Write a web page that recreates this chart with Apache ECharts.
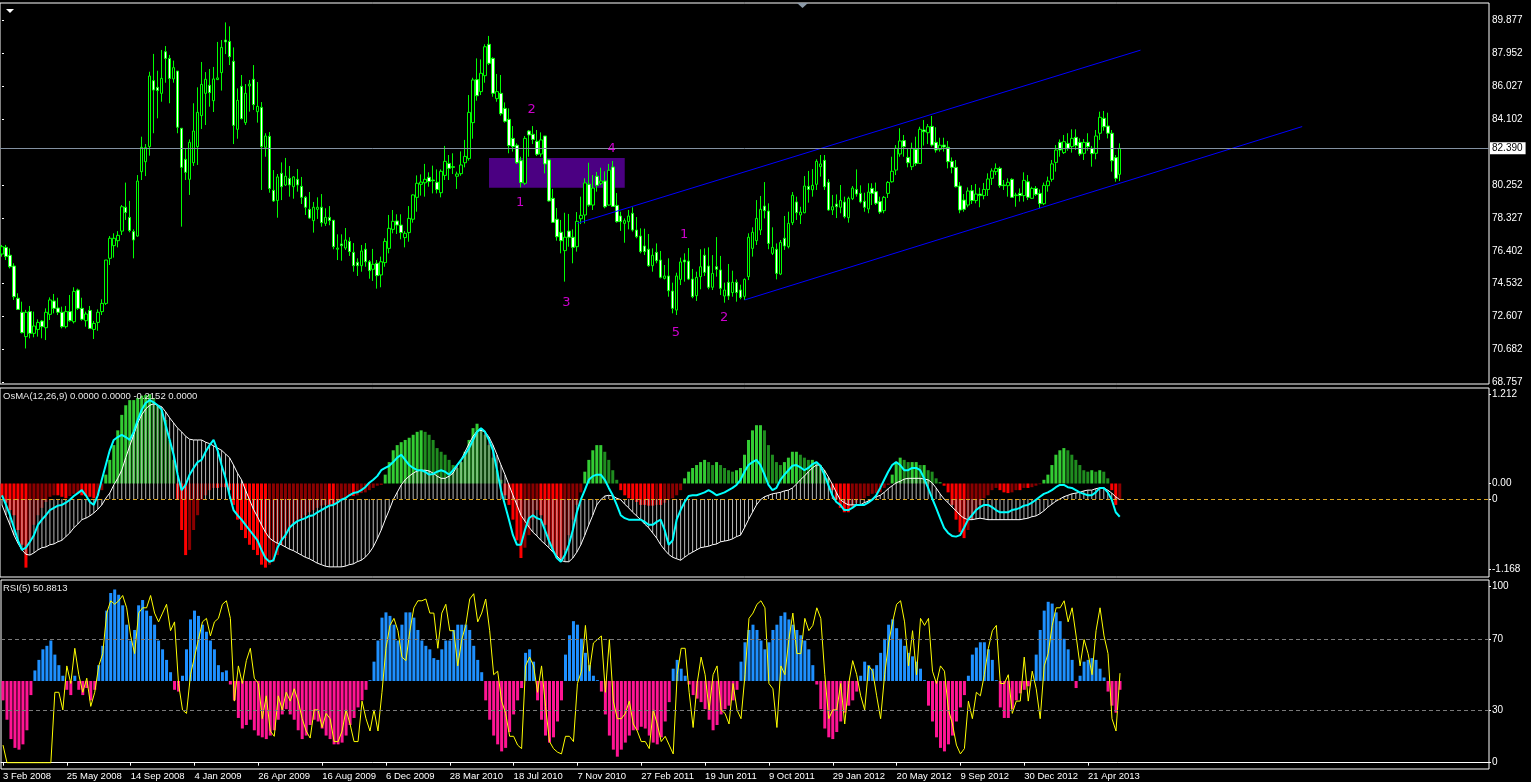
<!DOCTYPE html>
<html><head><meta charset="utf-8">
<script src="https://cdn.jsdelivr.net/npm/echarts@6.0.0/dist/echarts.min.js"></script>
<style>html,body{margin:0;padding:0;background:#000;overflow:hidden}#c{width:1531px;height:782px}</style>
</head><body><div id="c"></div>
<script>
const opens=[76.22,76.61,76.15,75.52,73.64,72.82,71.40,72.86,71.59,71.82,
72.31,71.92,72.70,73.48,73.07,72.82,71.98,72.86,72.27,74.12,
73.05,72.33,72.93,71.82,72.23,72.86,73.34,75.97,76.71,77.00,
77.56,78.95,78.36,77.53,77.27,81.03,81.61,82.49,86.34,85.95,
85.60,88.03,87.64,86.44,86.90,83.56,81.75,80.58,81.55,82.49,
84.30,85.60,86.07,85.17,86.40,86.81,88.71,88.63,87.47,83.50,
86.01,83.89,86.03,86.42,84.53,84.78,82.45,83.09,79.94,79.35,
80.93,80.25,80.64,80.15,80.58,80.17,79.53,78.83,78.17,78.83,
78.95,78.01,78.36,78.19,76.50,76.81,76.57,76.96,76.32,75.74,
75.54,76.50,75.77,75.33,75.68,75.00,75.72,76.55,77.66,78.15,
77.91,77.18,77.47,78.25,79.53,80.29,80.38,80.70,80.54,80.41,
79.80,80.81,81.51,81.32,80.76,80.91,81.55,81.79,83.89,86.40,
85.70,86.63,88.46,87.64,85.29,85.60,84.72,84.08,82.97,82.57,
81.67,80.35,83.40,83.21,82.80,82.06,83.11,81.71,79.47,78.25,
77.49,76.42,77.56,77.20,76.65,78.28,78.50,80.29,79.08,80.76,
80.35,80.48,79.08,81.30,79.06,78.44,78.01,78.11,78.60,77.62,
77.27,76.69,76.50,75.54,76.32,75.87,74.80,74.94,74.06,72.95,
74.74,75.87,75.81,74.76,73.79,74.90,76.15,75.52,74.28,75.48,
75.29,73.77,74.57,73.97,74.57,74.12,73.75,74.90,76.55,77.00,
77.62,79.02,78.73,76.26,76.50,75.05,77.14,76.65,78.05,79.26,
78.50,78.63,80.17,79.97,80.29,81.32,81.69,80.41,78.79,79.14,
78.95,79.26,78.34,79.45,79.99,79.76,79.30,78.85,80.05,79.86,
79.28,78.75,79.76,80.44,81.12,82.06,82.84,81.86,81.32,82.33,
81.51,83.46,83.30,83.67,82.74,82.33,82.58,82.45,81.63,81.28,
80.19,79.37,79.08,79.92,79.34,79.72,79.63,79.99,80.64,81.03,
81.22,80.25,80.21,80.58,79.63,79.76,79.63,80.44,79.47,80.05,
79.76,79.16,80.21,80.58,81.57,82.74,82.14,82.68,82.49,83.03,
82.74,82.10,82.74,82.39,82.10,83.27,84.14,83.69,83.27,81.85,
80.87];
const highs=[76.75,76.75,76.55,75.68,73.93,73.44,72.96,73.19,72.86,72.41,
72.37,73.05,73.69,73.89,73.67,73.15,73.19,73.83,74.28,74.20,
73.67,72.86,73.19,72.31,72.99,73.58,75.87,77.27,77.43,77.56,
79.08,80.39,79.32,77.66,80.83,83.07,82.64,86.86,87.90,86.92,
88.13,88.36,87.84,87.51,86.90,83.56,82.39,82.91,85.02,85.95,
87.43,86.84,87.02,87.14,88.60,88.71,89.74,89.51,88.28,85.89,
86.67,86.14,86.38,87.25,86.26,85.09,83.27,83.34,81.12,80.89,
81.57,81.83,81.36,80.77,81.18,80.72,79.61,79.84,79.26,79.53,
79.72,78.89,79.02,78.21,77.37,77.37,77.74,77.20,76.86,75.97,
76.75,76.86,75.87,76.52,75.87,76.07,77.14,78.50,78.79,78.54,
78.54,77.56,79.02,79.70,80.81,80.87,81.48,80.99,81.38,81.16,
81.16,82.53,82.00,82.10,81.03,82.21,82.88,85.50,86.51,87.64,
87.58,88.46,88.95,87.70,86.73,86.67,85.07,84.72,83.69,82.68,
81.90,83.11,83.46,83.69,83.46,83.32,83.11,81.75,80.02,78.91,
78.21,78.63,78.56,77.66,78.67,79.57,80.64,81.55,80.83,81.01,
81.26,81.05,81.48,81.65,79.78,78.69,78.30,78.79,78.95,78.38,
77.72,77.70,77.39,76.55,76.84,76.40,75.58,75.97,74.55,75.13,
76.01,76.26,76.57,75.35,75.19,76.50,76.55,76.61,76.16,77.21,
76.11,74.55,75.64,75.25,74.74,74.43,74.80,77.43,77.78,79.37,
79.61,80.42,79.18,77.78,76.84,77.04,78.44,78.69,79.84,79.57,
78.98,80.77,81.07,81.18,81.75,82.00,82.00,80.60,79.67,79.70,
80.25,79.57,79.57,80.19,81.16,80.23,79.80,80.35,80.35,80.39,
79.57,79.61,80.48,81.90,82.58,83.56,83.17,82.39,82.72,83.07,
83.65,84.04,83.81,84.28,83.62,83.01,83.01,82.82,81.86,81.71,
80.42,79.72,80.11,80.25,80.31,80.09,80.37,80.93,81.22,81.51,
81.32,80.54,80.64,80.64,79.80,80.05,80.99,80.83,80.15,80.19,
79.99,80.39,80.74,81.71,82.58,82.91,83.17,83.27,83.50,83.50,
82.97,82.93,83.27,82.53,83.46,84.53,84.57,84.47,83.46,82.00,
82.68];
const lows=[76.07,75.87,75.38,73.54,72.97,71.59,70.71,71.30,71.36,71.40,
71.30,71.20,72.37,72.76,72.66,71.88,71.88,72.27,72.17,72.96,
72.33,71.98,71.84,71.26,71.74,72.66,73.25,75.58,76.01,76.61,
77.33,78.21,77.49,75.97,77.23,80.54,80.77,81.96,83.27,84.14,
85.11,86.22,85.02,86.22,83.27,77.82,80.54,79.67,81.36,81.42,
83.52,83.75,84.82,84.51,86.38,85.76,87.89,87.25,82.64,82.95,
84.08,83.75,84.53,84.63,83.89,79.96,81.90,79.80,79.26,78.34,
79.37,80.19,79.57,79.45,79.86,79.14,78.50,78.27,77.47,78.27,
77.82,77.86,77.90,76.50,75.87,75.83,76.46,76.11,75.19,74.94,
75.19,75.48,74.78,74.65,74.20,74.28,75.48,76.26,77.43,77.39,
77.08,76.61,76.94,78.05,78.69,79.63,79.57,80.15,79.76,79.76,
79.53,80.54,80.54,80.89,80.02,80.79,81.28,81.67,82.95,85.17,
85.50,86.22,87.25,85.40,85.11,84.30,83.89,82.10,82.20,81.48,
80.11,80.25,81.90,82.64,81.94,81.90,80.93,79.28,78.05,77.00,
76.26,74.61,76.65,75.68,76.36,77.97,78.01,78.98,78.79,79.86,
80.25,78.89,79.04,78.98,78.05,77.57,76.88,77.66,77.53,77.14,
76.26,76.16,75.48,75.19,75.68,74.80,74.74,73.73,72.76,72.66,
74.41,74.61,74.70,73.64,73.48,74.16,74.94,74.16,74.12,74.90,
73.83,73.38,73.54,73.73,73.44,73.58,73.54,74.70,76.07,76.75,
77.33,78.30,76.50,76.16,74.74,74.99,76.46,76.55,77.91,78.21,
77.97,78.60,79.22,79.57,79.96,80.74,79.96,78.75,78.50,78.32,
78.60,78.30,78.05,79.37,79.57,79.18,78.69,78.60,79.08,79.08,
78.56,78.60,79.49,80.39,80.83,81.90,81.90,81.28,81.12,81.36,
81.48,82.55,82.64,82.49,82.14,82.20,82.20,81.22,80.93,80.11,
78.60,78.69,78.95,79.14,79.18,78.95,79.41,79.61,80.25,80.83,
80.09,79.96,79.57,79.51,78.98,79.28,79.28,79.37,79.43,79.61,
78.89,79.08,79.86,80.44,81.03,81.90,82.06,82.25,82.14,82.29,
81.94,81.71,82.25,81.32,81.75,82.88,83.42,82.97,81.03,80.44,
80.48];
const closes=[76.65,76.07,75.48,73.73,72.99,71.63,72.82,71.59,72.02,72.23,
71.98,72.82,73.54,73.05,72.82,71.98,72.86,72.33,74.04,73.05,
72.41,72.72,71.88,72.17,72.82,73.34,75.87,77.14,77.14,77.31,
78.98,78.65,77.59,77.04,80.48,82.45,82.43,86.61,85.79,85.76,
86.47,87.64,86.47,87.10,83.62,81.28,80.99,82.74,83.40,84.49,
86.12,86.42,85.64,86.44,86.50,88.28,88.60,87.74,83.73,85.19,
84.12,85.60,86.14,84.94,84.84,82.49,83.11,80.04,79.32,80.72,
80.15,80.76,80.25,80.72,80.25,79.53,78.95,78.32,78.95,78.95,
78.05,78.36,78.17,76.65,76.57,76.71,77.04,76.36,75.54,75.54,
76.40,75.77,75.25,75.62,74.96,75.77,76.96,77.72,78.13,77.91,
77.47,77.43,78.30,79.67,80.35,80.42,80.58,80.45,80.50,79.99,
81.05,81.63,81.22,81.28,80.89,81.42,81.92,84.49,86.38,85.46,
86.77,88.32,87.35,85.60,85.70,84.41,83.97,82.55,82.49,81.55,
80.39,82.97,83.17,82.91,82.04,82.88,81.48,79.32,78.07,77.23,
77.00,77.20,77.20,76.61,78.13,78.48,80.37,79.08,80.07,80.23,
80.48,78.98,81.11,79.00,78.11,78.11,78.17,78.44,77.62,77.23,
76.36,76.36,75.54,76.15,75.83,74.86,74.94,74.08,73.05,74.94,
75.76,75.76,74.76,73.73,74.86,75.48,75.15,74.28,75.09,75.33,
74.22,74.12,73.77,74.57,73.97,73.69,74.74,77.20,77.49,78.30,
78.83,78.75,76.84,76.61,75.09,76.90,76.69,78.01,79.65,78.63,
78.67,80.19,79.99,80.23,81.63,81.48,80.15,78.79,78.98,78.98,
79.35,78.40,79.47,80.07,79.72,79.26,78.95,79.84,79.76,79.18,
78.67,79.53,80.40,81.05,82.39,82.82,82.49,81.55,82.39,81.51,
83.50,83.36,83.65,82.58,82.29,82.57,82.47,81.61,81.28,80.15,
78.79,78.83,79.90,79.34,79.72,79.63,79.99,80.60,81.07,81.22,
80.21,80.21,80.41,79.53,79.67,79.63,80.52,79.53,80.05,79.70,
79.16,80.23,80.48,81.48,82.29,82.29,82.78,82.39,82.97,82.55,
82.06,82.74,82.49,82.08,83.11,84.20,83.65,83.27,81.67,80.64,
82.39];

// OsMA coloured histogram (left scale, 1.212 / -1.168)
const osmaHist=[-0.18,-0.26,-0.36,-0.43,-0.63,-0.83,-1.14,-0.77,-0.56,-0.43,
-0.33,-0.25,-0.18,-0.16,-0.16,-0.18,-0.20,-0.17,-0.14,-0.13,
-0.16,-0.17,-0.18,-0.20,-0.17,-0.09,0.12,0.32,0.52,0.72,
0.93,1.06,1.13,1.13,1.16,1.19,1.20,1.21,1.16,1.06,
1.00,0.86,0.59,0.32,-0.22,-0.63,-0.97,-0.90,-0.63,-0.43,
-0.22,-0.16,-0.09,-0.06,-0.06,-0.05,-0.05,-0.09,-0.29,-0.49,
-0.63,-0.74,-0.83,-0.90,-0.97,-1.10,-1.14,-1.10,-1.06,-0.97,
-0.83,-0.74,-0.63,-0.56,-0.49,-0.47,-0.43,-0.39,-0.36,-0.33,
-0.30,-0.29,-0.29,-0.29,-0.26,-0.22,-0.20,-0.17,-0.17,-0.16,
-0.13,-0.12,-0.09,-0.06,-0.03,-0.02,0.12,0.29,0.45,0.52,
0.56,0.59,0.62,0.66,0.70,0.72,0.70,0.66,0.59,0.48,
0.43,0.39,0.32,0.25,0.21,0.29,0.43,0.59,0.75,0.81,
0.75,0.66,0.52,0.35,0.18,0.05,-0.16,-0.29,-0.49,-0.77,
-1.01,-0.87,-0.70,-0.49,-0.36,-0.43,-0.56,-0.77,-0.90,-1.01,
-1.04,-0.90,-0.70,-0.49,-0.29,-0.12,0.16,0.32,0.45,0.52,
0.52,0.43,0.32,0.18,0.05,-0.09,-0.16,-0.20,-0.22,-0.25,
-0.29,-0.29,-0.30,-0.30,-0.29,-0.29,-0.26,-0.22,-0.20,-0.16,
-0.09,0.07,0.16,0.21,0.25,0.29,0.32,0.29,0.25,0.29,
0.25,0.21,0.18,0.16,0.18,0.21,0.39,0.59,0.72,0.79,
0.79,0.72,0.52,0.39,0.29,0.25,0.29,0.35,0.43,0.43,
0.39,0.35,0.32,0.32,0.29,0.25,0.18,0.07,-0.09,-0.22,
-0.33,-0.39,-0.39,-0.33,-0.26,-0.22,-0.20,-0.17,-0.14,-0.13,
-0.12,-0.06,-0.02,0.12,0.29,0.35,0.32,0.29,0.29,0.29,
0.25,0.25,0.18,0.16,0.07,0.02,-0.03,-0.12,-0.29,-0.49,
-0.66,-0.74,-0.63,-0.49,-0.36,-0.29,-0.20,-0.16,-0.09,-0.06,
-0.09,-0.12,-0.13,-0.12,-0.09,-0.09,-0.06,-0.06,-0.05,-0.03,
-0.01,0.05,0.12,0.25,0.39,0.45,0.48,0.45,0.39,0.32,
0.25,0.18,0.16,0.18,0.16,0.18,0.16,0.07,-0.09,-0.29,
-0.22];
// MACD main (white line + silver bars) on the second scale (zero = dashed "0" level)
const macdMain=[-0.08,-0.22,-0.35,-0.49,-0.60,-0.69,-0.75,-0.76,-0.73,-0.69,
-0.66,-0.65,-0.62,-0.61,-0.58,-0.56,-0.51,-0.46,-0.39,-0.34,
-0.28,-0.26,-0.23,-0.19,-0.14,-0.08,0.01,0.08,0.19,0.28,
0.39,0.56,0.72,0.87,1.03,1.14,1.22,1.27,1.29,1.27,
1.25,1.18,1.10,1.03,0.96,0.91,0.85,0.81,0.80,0.80,
0.80,0.77,0.75,0.72,0.69,0.66,0.61,0.56,0.46,0.35,
0.26,0.12,-0.01,-0.14,-0.24,-0.35,-0.45,-0.53,-0.57,-0.60,
-0.62,-0.65,-0.68,-0.70,-0.73,-0.76,-0.79,-0.81,-0.84,-0.87,
-0.89,-0.91,-0.92,-0.92,-0.92,-0.92,-0.91,-0.89,-0.88,-0.85,
-0.83,-0.79,-0.73,-0.65,-0.54,-0.42,-0.28,-0.15,-0.01,0.09,
0.19,0.26,0.31,0.35,0.38,0.39,0.39,0.38,0.35,0.31,
0.28,0.28,0.31,0.35,0.45,0.53,0.64,0.75,0.85,0.92,
0.93,0.91,0.84,0.73,0.60,0.46,0.33,0.19,0.05,-0.08,
-0.22,-0.30,-0.38,-0.45,-0.50,-0.56,-0.61,-0.66,-0.72,-0.77,
-0.83,-0.85,-0.85,-0.80,-0.72,-0.62,-0.49,-0.35,-0.22,-0.08,
-0.01,0.04,0.05,0.04,0.01,-0.01,-0.07,-0.12,-0.18,-0.23,
-0.28,-0.34,-0.39,-0.46,-0.53,-0.62,-0.69,-0.75,-0.79,-0.81,
-0.83,-0.79,-0.75,-0.72,-0.69,-0.66,-0.65,-0.64,-0.62,-0.61,
-0.58,-0.57,-0.56,-0.54,-0.51,-0.49,-0.39,-0.28,-0.18,-0.08,
-0.01,0.03,0.05,0.07,0.08,0.09,0.11,0.12,0.15,0.20,
0.26,0.31,0.37,0.42,0.46,0.46,0.39,0.30,0.20,0.09,
-0.01,-0.05,-0.08,-0.08,-0.08,-0.08,-0.05,-0.03,0.00,0.03,
0.05,0.09,0.14,0.18,0.22,0.24,0.27,0.28,0.28,0.28,
0.28,0.27,0.26,0.22,0.15,0.07,0.00,-0.05,-0.11,-0.16,
-0.22,-0.26,-0.28,-0.28,-0.27,-0.26,-0.27,-0.28,-0.28,-0.28,
-0.28,-0.28,-0.28,-0.28,-0.28,-0.28,-0.27,-0.26,-0.24,-0.23,
-0.20,-0.16,-0.11,-0.07,-0.03,0.00,0.03,0.05,0.07,0.08,
0.09,0.11,0.12,0.12,0.14,0.15,0.15,0.12,0.08,0.03,
-0.01];
// fast (cyan) line on the same second scale
const macdFast=[0.05,-0.08,-0.22,-0.39,-0.56,-0.69,-0.66,-0.58,-0.49,-0.35,
-0.28,-0.22,-0.15,-0.12,-0.09,-0.08,-0.05,-0.01,0.04,0.08,
0.12,0.05,-0.04,-0.08,0.05,0.26,0.46,0.66,0.80,0.84,
0.87,0.84,0.80,0.91,1.07,1.21,1.30,1.34,1.31,1.27,
1.21,1.00,0.80,0.60,0.33,0.12,0.19,0.33,0.42,0.50,
0.53,0.64,0.73,0.80,0.66,0.46,0.28,0.05,-0.15,-0.22,
-0.28,-0.35,-0.42,-0.49,-0.56,-0.69,-0.80,-0.85,-0.83,-0.66,
-0.56,-0.49,-0.39,-0.34,-0.30,-0.28,-0.26,-0.23,-0.22,-0.18,
-0.15,-0.12,-0.09,-0.08,-0.05,-0.01,0.01,0.05,0.08,0.09,
0.12,0.16,0.22,0.26,0.31,0.39,0.42,0.45,0.50,0.56,
0.60,0.53,0.46,0.42,0.39,0.39,0.37,0.33,0.34,0.37,
0.39,0.37,0.33,0.39,0.46,0.53,0.60,0.69,0.80,0.91,
0.96,0.91,0.80,0.66,0.39,0.12,-0.08,-0.28,-0.49,-0.62,
-0.62,-0.42,-0.26,-0.22,-0.26,-0.28,-0.42,-0.56,-0.69,-0.80,
-0.85,-0.76,-0.62,-0.42,-0.18,-0.01,0.12,0.26,0.31,0.33,
0.33,0.26,0.15,0.05,-0.08,-0.22,-0.26,-0.28,-0.28,-0.28,
-0.28,-0.31,-0.35,-0.35,-0.31,-0.28,-0.42,-0.62,-0.56,-0.28,
-0.15,-0.04,0.04,0.05,0.05,0.07,0.09,0.12,0.09,0.05,
0.07,0.09,0.12,0.15,0.19,0.26,0.37,0.46,0.50,0.53,
0.46,0.33,0.19,0.12,0.15,0.26,0.33,0.39,0.45,0.46,
0.43,0.39,0.42,0.47,0.50,0.45,0.33,0.19,0.05,-0.04,
-0.08,-0.15,-0.15,-0.12,-0.08,-0.08,-0.08,-0.05,-0.01,0.05,
0.15,0.26,0.37,0.46,0.50,0.46,0.39,0.39,0.42,0.42,
0.39,0.28,0.15,0.01,-0.12,-0.26,-0.39,-0.46,-0.50,-0.51,
-0.49,-0.39,-0.28,-0.22,-0.15,-0.11,-0.08,-0.08,-0.11,-0.15,
-0.18,-0.18,-0.18,-0.15,-0.14,-0.12,-0.09,-0.08,-0.05,-0.01,
0.03,0.07,0.09,0.12,0.16,0.19,0.19,0.16,0.15,0.12,
0.09,0.07,0.05,0.05,0.09,0.15,0.15,0.09,-0.01,-0.18,
-0.24];
// RSI histogram (blue above / pink below its base line)
const rsiHist=[-11,-22,-33,-38,-39,-36,-28,-8,6,12,
18,20,23,15,9,3,-5,-8,3,-5,
-8,-4,-11,-5,9,20,40,50,52,49,
43,32,23,29,43,46,40,37,32,23,
18,12,5,-5,-6,3,18,35,40,37,
32,28,23,18,9,5,6,-2,-11,-21,
-27,-25,-22,-28,-31,-32,-33,-31,-28,-22,
-19,-16,-19,-22,-28,-33,-31,-25,-22,-23,
-27,-31,-33,-36,-36,-35,-31,-25,-21,-15,
-11,-5,0.5,11,23,36,39,37,32,23,
32,39,39,36,29,23,20,18,13,12,
18,23,23,29,32,32,32,29,20,12,
5,-11,-22,-31,-36,-40,-38,-29,-19,-11,
-4,16,18,11,-11,-22,-31,-35,-32,-23,
-11,15,26,34,32,24,16,9,3,0.5,
-6,-19,-31,-39,-43,-39,-35,-31,-28,-28,
-26,-27,-31,-35,-36,-32,-23,-12,7,12,
7,3,-2,-8,-10,-12,-16,-22,-28,-25,
-19,-16,-14,-11,-5,11,22,29,32,29,
23,18,22,29,32,37,39,35,32,29,
26,23,18,9,-2,-16,-27,-32,-33,-29,
-23,-18,-14,-11,-6,3,11,9,7,9,
16,24,32,35,30,24,20,16,14,11,
7,0.5,-14,-23,-32,-38,-40,-36,-31,-23,
-15,-8,3,15,19,22,22,18,12,0.5,
-15,-21,-21,-16,-11,-7,-5,-3,0.5,15,
29,40,45,44,39,34,24,18,12,-4,
3,11,12,13,12,7,2,-6,-14,-18,
-5];
// RSI(5) line
const rsi5=[10,0,0,0,0,0,0,0,0,0,
0,0,0,40,40,30,55,45,65,50,
40,48,32,40,55,62,85,92,90,92,
95,88,72,62,85,88,88,95,85,80,
85,90,75,80,45,30,28,50,60,70,
80,82,72,80,82,90,92,82,35,55,
45,58,65,48,45,25,38,18,15,38,
30,40,35,42,35,25,18,14,30,30,
20,28,25,12,12,18,30,22,12,12,
35,25,18,30,18,40,65,78,82,75,
60,58,75,88,92,92,93,85,85,65,
85,90,75,75,55,70,78,93,96,80,
85,93,75,50,52,35,28,15,15,10,
8,55,60,55,40,55,32,12,8,6,
5,15,15,12,45,52,78,52,68,70,
72,40,70,35,25,25,28,35,22,18,
12,12,8,30,22,12,15,10,5,50,
65,65,40,20,45,60,50,30,50,55,
30,28,22,45,30,25,50,82,85,90,
92,88,45,42,20,55,50,70,85,62,
62,82,75,78,88,82,50,25,30,30,
45,22,45,58,50,38,30,55,52,38,
25,50,68,80,90,92,80,55,75,50,
82,78,82,52,45,55,52,30,22,10,
5,8,35,25,40,38,50,65,75,78,
45,45,50,28,35,35,60,35,52,42,
25,55,62,78,88,88,92,80,88,72,
55,70,62,50,75,88,72,62,25,18,
50.88];

const tickLabels=['3 Feb 2008','25 May 2008','14 Sep 2008','4 Jan 2009','26 Apr 2009','16 Aug 2009','6 Dec 2009','28 Mar 2010','18 Jul 2010','7 Nov 2010','27 Feb 2011','19 Jun 2011','9 Oct 2011','29 Jan 2012','20 May 2012','9 Sep 2012','30 Dec 2012','21 Apr 2013'];
const priceTicks=[89.877,87.952,86.027,84.102,80.252,78.327,76.402,74.532,72.607,70.682,68.757];
const osmaTicks=[1.212,0,-1.168];
const macdTicks=[0];
const rsiTicks=[100,70,30,0];
const rsiLevels=[70,30];
const currentPrice=82.39;
const waveLabels=[[132.7,84.63,'2'],[129.8,79.24,'1'],[152.7,82.39,'4'],[141.4,73.36,'3'],[170.9,77.33,'1'],[168.8,71.65,'5'],[180.9,72.53,'2']];
const channelUpper=[[144.1,78.01],[285.2,88.12]];
const channelLower=[[186.0,73.54],[325.7,83.66]];
const zoneBox=[[122,81.83],[156,80.09]];

const SLOTS=373, BW=4, LEFT=-3;
const cats=[]; for(let i=0;i<SLOTS;i++) cats.push(i);
const candles=opens.map((o,i)=>[o,closes[i],lows[i],highs[i]]);
const FONT='Liberation Sans';
const W=SLOTS*BW;

const osmaData=osmaHist.map((v,i)=>{
  const p=i>0?osmaHist[i-1]:0;
  let c;
  if(v>=0) c=(v>=p)?'#33cc33':'#1f8c1f'; else c=(v<=p)?'#ff0000':'#8b0000';
  return {value:v,itemStyle:{color:c}};
});
const rsiHistData=rsiHist.map(v=>({value:v,itemStyle:{color:v>=0?'#1e90ff':'#ff1493'}}));

const chart=echarts.init(document.getElementById('c'),null,{renderer:'canvas'});
const gridBase={left:LEFT,width:W,show:true,borderColor:'#ffffff',borderWidth:1,backgroundColor:'#000'};
const catAxis=(g,extra)=>Object.assign({type:'category',gridIndex:g,data:cats,boundaryGap:true,axisLine:{show:false},axisTick:{show:false},axisLabel:{show:false},splitLine:{show:false}},extra||{});
const showTick=(i)=>i%16===0 && i/16<tickLabels.length;
const hiddenY=(g,min,max)=>({type:'value',gridIndex:g,min:min,max:max,show:false,splitLine:{show:false}});

const option={
  backgroundColor:'#000',
  animation:false,
  title:[
    {text:'OsMA(12,26,9) 0.0000 0.0000 -0.2152 0.0000',left:3,top:391,padding:0,z:20,textStyle:{color:'#e8e8e8',fontSize:9.5,fontWeight:'normal',fontFamily:FONT}},
    {text:'RSI(5) 50.8813',left:3,top:583,padding:0,z:20,textStyle:{color:'#e8e8e8',fontSize:9.5,fontWeight:'normal',fontFamily:FONT}}
  ],
  grid:[
    Object.assign({top:3,height:381},gridBase),
    Object.assign({top:388,height:189},gridBase),
    Object.assign({top:580,height:189},gridBase)
  ],
  xAxis:[
    catAxis(0),
    catAxis(1),
    catAxis(2,{axisLine:{show:true,lineStyle:{color:'#fff'}},
      axisTick:{show:true,interval:(i)=>showTick(i),alignWithLabel:true,length:3,lineStyle:{color:'#fff'}},
      axisLabel:{show:true,interval:(i)=>showTick(i),formatter:(v,i)=>tickLabels[i/16]||'',align:'left',color:'#fff',fontSize:9.5,fontFamily:FONT,margin:2}}),
    {type:'value',gridIndex:0,min:-0.5,max:SLOTS-0.5,show:false},
    catAxis(1)
  ],
  yAxis:[
    {type:'value',gridIndex:0,position:'right',min:68.635,max:90.872,splitLine:{show:false},axisLine:{show:false},
      axisTick:{show:true,customValues:priceTicks,length:2,lineStyle:{color:'#fff'}},
      axisLabel:{customValues:priceTicks,formatter:(v)=>v.toFixed(3),color:'#fff',fontSize:10,fontFamily:FONT,margin:3}},
    {type:'value',gridIndex:1,position:'right',min:-1.267,max:1.294,splitLine:{show:false},axisLine:{show:false},
      axisTick:{show:true,customValues:osmaTicks,length:2,lineStyle:{color:'#fff'}},
      axisLabel:{customValues:osmaTicks,formatter:(v)=>v===0?'0.00':v.toFixed(3),color:'#fff',fontSize:10,fontFamily:FONT,margin:3}},
    {type:'value',gridIndex:1,position:'right',min:-1.057,max:1.504,splitLine:{show:false},axisLine:{show:false},
      axisTick:{show:true,customValues:macdTicks,length:2,lineStyle:{color:'#fff'}},
      axisLabel:{customValues:macdTicks,formatter:()=>'0',color:'#fff',fontSize:10,fontFamily:FONT,margin:3}},
    {type:'value',gridIndex:2,position:'right',min:-3.58,max:103.8,splitLine:{show:false},axisLine:{show:false},
      axisTick:{show:true,customValues:rsiTicks,length:2,lineStyle:{color:'#fff'}},
      axisLabel:{customValues:rsiTicks,color:'#fff',fontSize:10,fontFamily:FONT,margin:3}},
    hiddenY(2,-50,57.39)
  ],
  series:[
    {type:'line',xAxisIndex:3,yAxisIndex:0,data:[],z:1,silent:true,
      markArea:{silent:true,itemStyle:{color:'#4b0082',opacity:1},data:[[{coord:zoneBox[0]},{coord:zoneBox[1]}]]}},
    {type:'candlestick',xAxisIndex:0,yAxisIndex:0,data:candles,barWidth:3,z:3,
      itemStyle:{color:'#000000',color0:'#ffffff',borderColor:'#00ff00',borderColor0:'#00ff00',borderWidth:1},
      markLine:{silent:true,symbol:'none',lineStyle:{color:'#8391a2',width:1,type:'solid'},
        label:{show:true,position:'end',distance:1,formatter:()=>currentPrice.toFixed(3),backgroundColor:'#fff',color:'#000',fontSize:10,fontFamily:FONT,padding:[1,3,1,2]},
        data:[{yAxis:currentPrice}]}},
    {type:'line',xAxisIndex:3,yAxisIndex:0,data:channelUpper,symbol:'none',lineStyle:{color:'#0000ff',width:1},z:4,silent:true},
    {type:'line',xAxisIndex:3,yAxisIndex:0,data:channelLower,symbol:'none',lineStyle:{color:'#0000ff',width:1},z:4,silent:true},
    {type:'scatter',xAxisIndex:3,yAxisIndex:0,data:waveLabels,symbol:'circle',symbolSize:1,itemStyle:{color:'rgba(0,0,0,0)'},z:6,silent:true,
      label:{show:true,position:'inside',formatter:(p)=>p.data[2],color:'#ff00ff',fontSize:13,fontFamily:'DejaVu Sans'}},
    // OsMA panel
    {type:'bar',xAxisIndex:1,yAxisIndex:1,data:osmaData,barWidth:3,z:2,silent:true},
    {type:'bar',xAxisIndex:4,yAxisIndex:2,data:macdMain,barWidth:1,z:3,silent:true,itemStyle:{color:'#b8b8b8'}},
    {type:'line',xAxisIndex:1,yAxisIndex:2,data:macdMain,symbol:'none',z:4,silent:true,lineStyle:{color:'#ffffff',width:1},
      markLine:{silent:true,symbol:'none',label:{show:false},lineStyle:{color:'#daa520',type:[4,3],width:1},data:[{yAxis:0}]}},
    {type:'line',xAxisIndex:1,yAxisIndex:2,data:macdFast,symbol:'none',z:5,silent:true,lineStyle:{color:'#00ffff',width:2}},
    // RSI panel
    {type:'bar',xAxisIndex:2,yAxisIndex:4,data:rsiHistData,barWidth:3,z:2,silent:true},
    {type:'line',xAxisIndex:2,yAxisIndex:3,data:rsi5,symbol:'none',z:4,silent:true,lineStyle:{color:'#ffff00',width:1},
      markLine:{silent:true,symbol:'none',label:{show:false},lineStyle:{color:'#7a7a7a',type:[4,3],width:1},data:rsiLevels.map(v=>({yAxis:v}))}}
  ],
  graphic:[
    {type:'polygon',shape:{points:[[6,9],[14,9],[10,13]]},style:{fill:'#fff'}},
    {type:'polygon',shape:{points:[[797,3],[808,3],[802.5,8]]},style:{fill:'#8c9aa8'}}
  ]
};
chart.setOption(option);
</script></body></html>
